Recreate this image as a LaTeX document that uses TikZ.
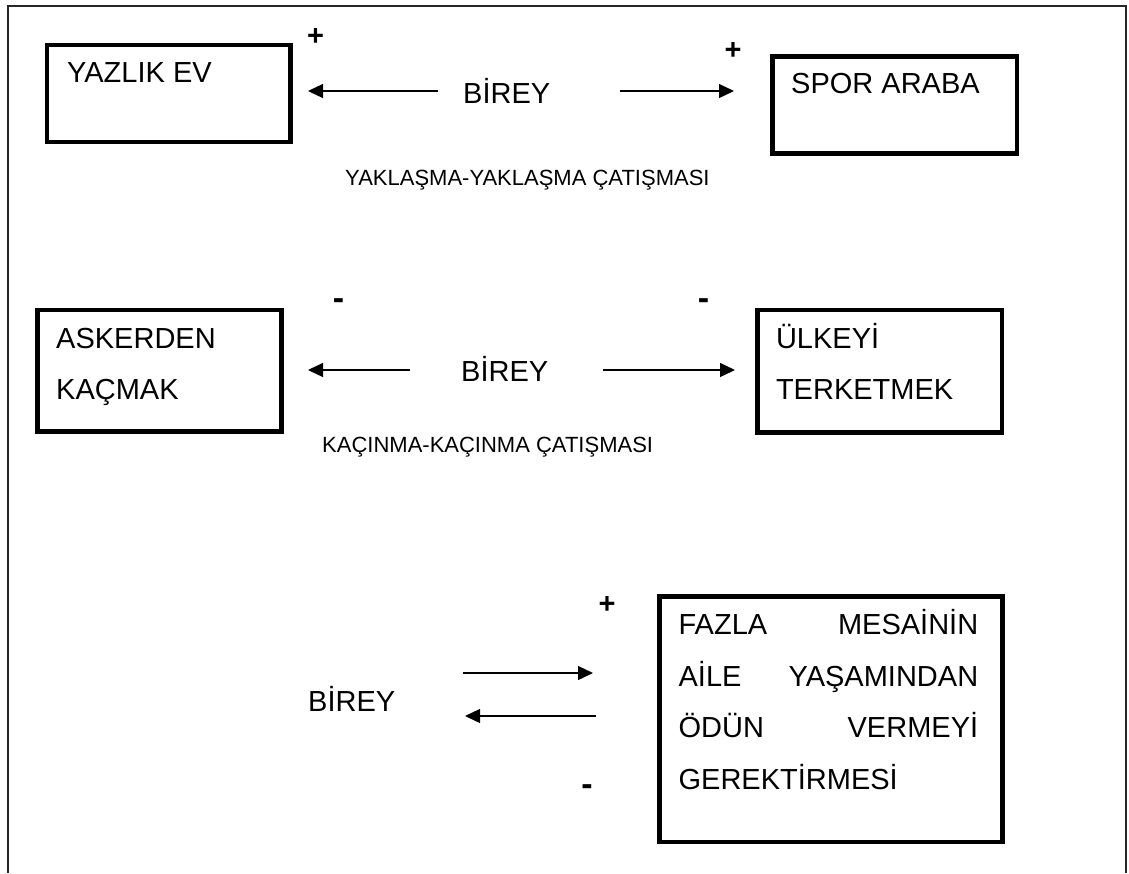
\documentclass[tikz,border=0pt]{standalone}
\usepackage{fontspec}
\setmainfont{Liberation Sans}
\usetikzlibrary{arrows.meta}
\begin{document}
\begin{tikzpicture}[x=1pt,y=-1pt,
  box/.style={draw,line width=4.5pt,anchor=north west,inner sep=0pt},
  big/.style={font=\fontsize{29}{35}\selectfont,inner sep=0pt,anchor=base west},
  small/.style={font=\fontsize{22}{26}\selectfont,inner sep=0pt,anchor=base west},
  plussign/.style={font=\bfseries\fontsize{29}{32}\selectfont,inner sep=0pt,anchor=base},
  minussign/.style={font=\bfseries\fontsize{34}{38}\selectfont,inner sep=0pt,anchor=base},
  arr/.style={line width=1.3pt,-{Triangle[length=15pt,width=14pt]}},
  framelinestyle/.style={line width=1.6pt,draw=black!85}]
\useasboundingbox (0,0) rectangle (1129,873);
% outer frame
\coordinate (fbl) at (8,873);
\coordinate (ftl) at (8,6);
\coordinate (ftr) at (1126,6);
\coordinate (fbr) at (1126,873);
\draw[framelinestyle] (fbl) -- (ftl) -- (ftr) -- (fbr);

% ---- row 1
\node[box,minimum width=243.5pt,minimum height=97pt] (yazlik) at (44.5,42.5) {};
\node[big] (yazlikt) at (67,82) {YAZLIK EV};
\node[box,minimum width=244.5pt,minimum height=97pt] (spor) at (770,54) {};
\node[big] (sport) at (791,93) {SPOR ARABA};
\node[big] (birey1) at (463,103) {BİREY};
\node[plussign] (p1) at (315.5,45.6) {+};
\node[plussign] (p2) at (733,59.1) {+};
\coordinate (a1s) at (438,91);
\coordinate (a1e) at (308,91);
\coordinate (a2s) at (620,91);
\coordinate (a2e) at (734,91);
\draw[arr] (a1s) -- (a1e);
\draw[arr] (a2s) -- (a2e);
\node[small] (yak) at (345,185) {YAKLAŞMA-YAKLAŞMA ÇATIŞMASI};

% ---- row 2
\node[box,minimum width=244pt,minimum height=121.5pt] (asker) at (35,307.5) {};
\node[big] (askert) at (56,348) {ASKERDEN};
\node[big] (askert2) at (56,399) {KAÇMAK};
\node[box,minimum width=244.4pt,minimum height=122.5pt] (ulke) at (755.4,307.5) {};
\node[big] (ulket) at (775.8,348) {ÜLKEYİ};
\node[big] (ulket2) at (775.8,399) {TERKETMEK};
\node[big] (birey2) at (461,381) {BİREY};
\node[minussign] (m1) at (338.5,309.2) {-};
\node[minussign] (m2) at (703.5,309.7) {-};
\coordinate (b1s) at (410,370);
\coordinate (b1e) at (308,370);
\coordinate (b2s) at (603,370);
\coordinate (b2e) at (735,370);
\draw[arr] (b1s) -- (b1e);
\draw[arr] (b2s) -- (b2e);
\node[small] (kac) at (322,452) {KAÇINMA-KAÇINMA ÇATIŞMASI};

% ---- row 3
\node[box,minimum width=343pt,minimum height=245.7pt] (fazla) at (657,594) {};
\node[big] (f1) at (678.4,634) {\hbox to 299.6pt{FAZLA\hfill MESAİNİN}};
\node[big] (f2) at (678.4,686) {\hbox to 299.6pt{AİLE\hfill YAŞAMINDAN}};
\node[big] (f3) at (678.4,737.7) {\hbox to 299.6pt{ÖDÜN\hfill VERMEYİ}};
\node[big] (f4) at (678.4,789.3) {GEREKTİRMESİ};
\node[big] (birey3) at (308,711) {BİREY};
\node[plussign] (p3) at (607,613.6) {+};
\node[minussign] (m3) at (587,795.7) {-};
\coordinate (c1s) at (463,673);
\coordinate (c1e) at (593,673);
\coordinate (c2s) at (595.7,716);
\coordinate (c2e) at (465,716);
\draw[arr] (c1s) -- (c1e);
\draw[arr] (c2s) -- (c2e);
\end{tikzpicture}
\end{document}
